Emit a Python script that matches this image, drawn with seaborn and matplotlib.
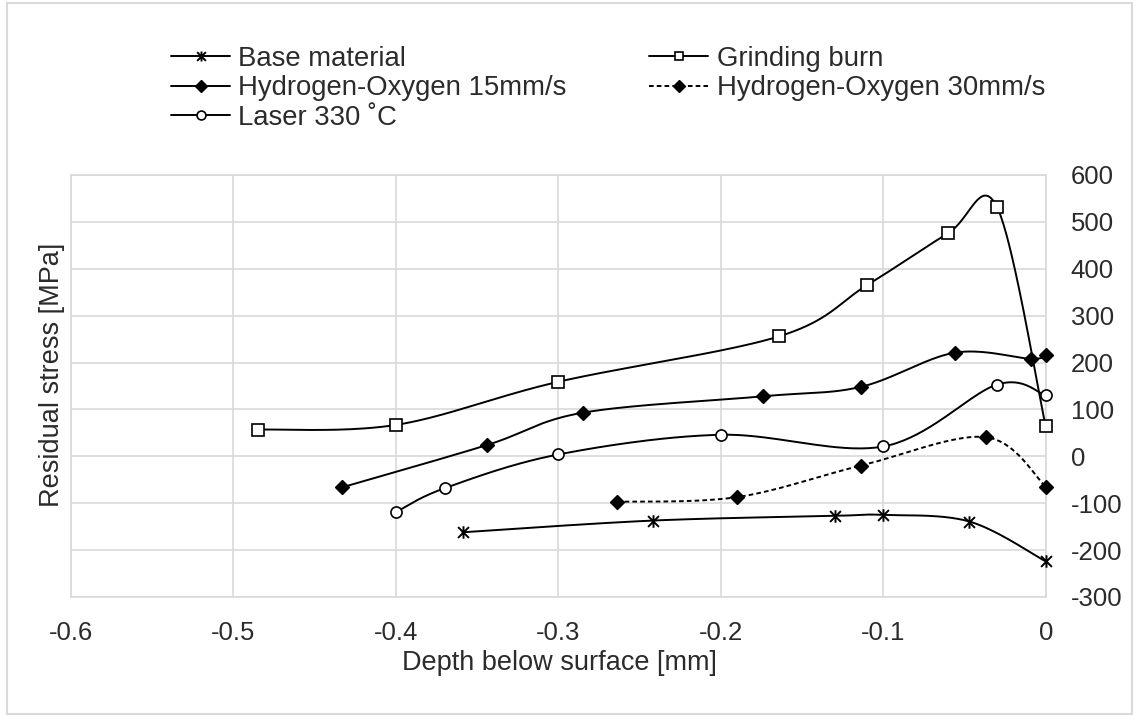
import numpy as np
import matplotlib
matplotlib.use("Agg")
import matplotlib.pyplot as plt
import seaborn as sns
from matplotlib.path import Path
from matplotlib.lines import Line2D
from matplotlib.patches import Rectangle

# ---------------- data ----------------
base_x = [-0.359, -0.242, -0.130, -0.100, -0.047, 0.0]
base_y = [-162, -137, -127, -125, -139, -224]

grind_x = [-0.485, -0.400, -0.300, -0.164, -0.110, -0.060, -0.030, 0.0]
grind_y = [57, 67, 159, 256, 365, 476, 532, 64]

ho15_x = [-0.433, -0.344, -0.285, -0.174, -0.114, -0.056, -0.009, 0.0]
ho15_y = [-66, 24, 93, 128, 148, 221, 208, 217]

ho30_x = [-0.264, -0.190, -0.114, -0.037, 0.0]
ho30_y = [-97, -87, -20, 41, -65]

laser_x = [-0.400, -0.370, -0.300, -0.200, -0.100, -0.030, 0.0]
laser_y = [-119, -68, 4, 46, 21, 153, 130]

labels = ["Base material", "Hydrogen-Oxygen 15mm/s", "Laser 330 \u02daC",
          "Grinding burn", "Hydrogen-Oxygen 30mm/s"]
x_ticks = [-0.6, -0.5, -0.4, -0.3, -0.2, -0.1, 0.0]
x_tick_labels = ["-0.6", "-0.5", "-0.4", "-0.3", "-0.2", "-0.1", "0"]
y_ticks = [-300, -200, -100, 0, 100, 200, 300, 400, 500, 600]

# ---------------- style ----------------
sns.set_style("white")
plt.rcParams["font.family"] = ["Liberation Sans", "DejaVu Sans"]
plt.rcParams["axes.unicode_minus"] = False
TXT = "#2b2b2b"
GRID = "#d9d9d9"

W, H = 1137, 715
fig = plt.figure(figsize=(W / 100, H / 100), dpi=100)
L, R, T, B = 71, 1045.7, 175, 597
ax = fig.add_axes([L / W, 1 - B / H, (R - L) / W, (B - T) / H])
ax.set_xlim(-0.6, 0)
ax.set_ylim(-300, 600)

# pixel scale used for Excel-like smoothing
SX = (R - L) / 0.6
SY = (B - T) / 900.0


def smooth(xs, ys, n=40):
    P = np.column_stack([np.asarray(xs) * SX, np.asarray(ys) * SY])
    out = []
    for i in range(len(P) - 1):
        p0 = P[i - 1] if i > 0 else P[i]
        p1, p2 = P[i], P[i + 1]
        p3 = P[i + 2] if i + 2 < len(P) else P[i + 1]
        c1 = p1 + (p2 - p0) / 6.0
        c2 = p2 - (p3 - p1) / 6.0
        t = np.linspace(0, 1, n)[:, None]
        seg = ((1 - t) ** 3) * p1 + 3 * ((1 - t) ** 2) * t * c1 + 3 * (1 - t) * t ** 2 * c2 + t ** 3 * p2
        out.append(seg if i == 0 else seg[1:])
    out = np.vstack(out)
    return out[:, 0] / SX, out[:, 1] / SY


star = Path([(-1, -1), (1, 1), (-1, 1), (1, -1), (0, -1.15), (0, 1.15)],
            [Path.MOVETO, Path.LINETO, Path.MOVETO, Path.LINETO, Path.MOVETO, Path.LINETO])

series = [
    (base_x, base_y, "-", dict(marker=star, ms=9, mfc="black", mec="black", mew=1.4)),
    (ho15_x, ho15_y, "-", dict(marker="D", ms=7.5, mfc="black", mec="black", mew=1.0)),
    (laser_x, laser_y, "-", dict(marker="o", ms=8, mfc="white", mec="black", mew=1.2)),
    (grind_x, grind_y, "-", dict(marker="s", ms=8, mfc="white", mec="black", mew=1.2)),
    (ho30_x, ho30_y, (0, (2.4, 1.6)), dict(marker="D", ms=7.5, mfc="black", mec="black", mew=1.0)),
]

LW = 1.4
for xs, ys, ls, mk in series:
    cx, cy = smooth(xs, ys)
    sns.lineplot(x=cx, y=cy, sort=False, estimator=None, ax=ax, color="black",
                 linewidth=LW, linestyle=ls, zorder=3)
    ax.plot(xs, ys, linestyle="none", zorder=4, clip_on=False, **mk)

# grid / axes
ax.set_xticks(x_ticks)
ax.set_xticklabels(x_tick_labels)
ax.set_yticks(y_ticks)
ax.yaxis.tick_right()
ax.grid(True, color=GRID, linewidth=1.2)
for s in ax.spines.values():
    s.set_color(GRID)
    s.set_linewidth(1.2)
ax.tick_params(axis="both", length=0, labelsize=18.5, colors=TXT)
ax.tick_params(axis="x", pad=17.5)
ax.tick_params(axis="y", pad=18)
for lab in ax.get_yticklabels():
    lab.set_horizontalalignment("left")

fig.text(559 / W, 1 - 663 / H, "Depth below surface [mm]", ha="center", va="center",
         fontsize=19.5, color=TXT)
fig.text(52 / W, 1 - 375 / H, "Residual stress [MPa]", ha="center", va="center",
         rotation=90, fontsize=19.5, color=TXT)

# legend
handles = []
for xs, ys, ls, mk in series:
    m = dict(mk)
    m["ms"] = m["ms"] * 0.8
    handles.append(Line2D([], [], color="black", linewidth=LW, linestyle=ls, **m))
leg = fig.legend(handles, labels, ncol=2, loc="upper left",
                 bbox_to_anchor=(171 / W, 1 - 46 / H), frameon=False, fontsize=19.8,
                 handlelength=2.15, handletextpad=0.3, columnspacing=3.0,
                 labelspacing=0.12, borderpad=0, borderaxespad=0)
for t in leg.get_texts():
    t.set_color(TXT)

# outer chart border
fig.patches.append(Rectangle((7 / W, 1 / H), (1132 - 7) / W, (714 - 3) / H,
                             transform=fig.transFigure, fill=False,
                             edgecolor=GRID, linewidth=1.5))

fig.savefig("out.png", dpi=100)
